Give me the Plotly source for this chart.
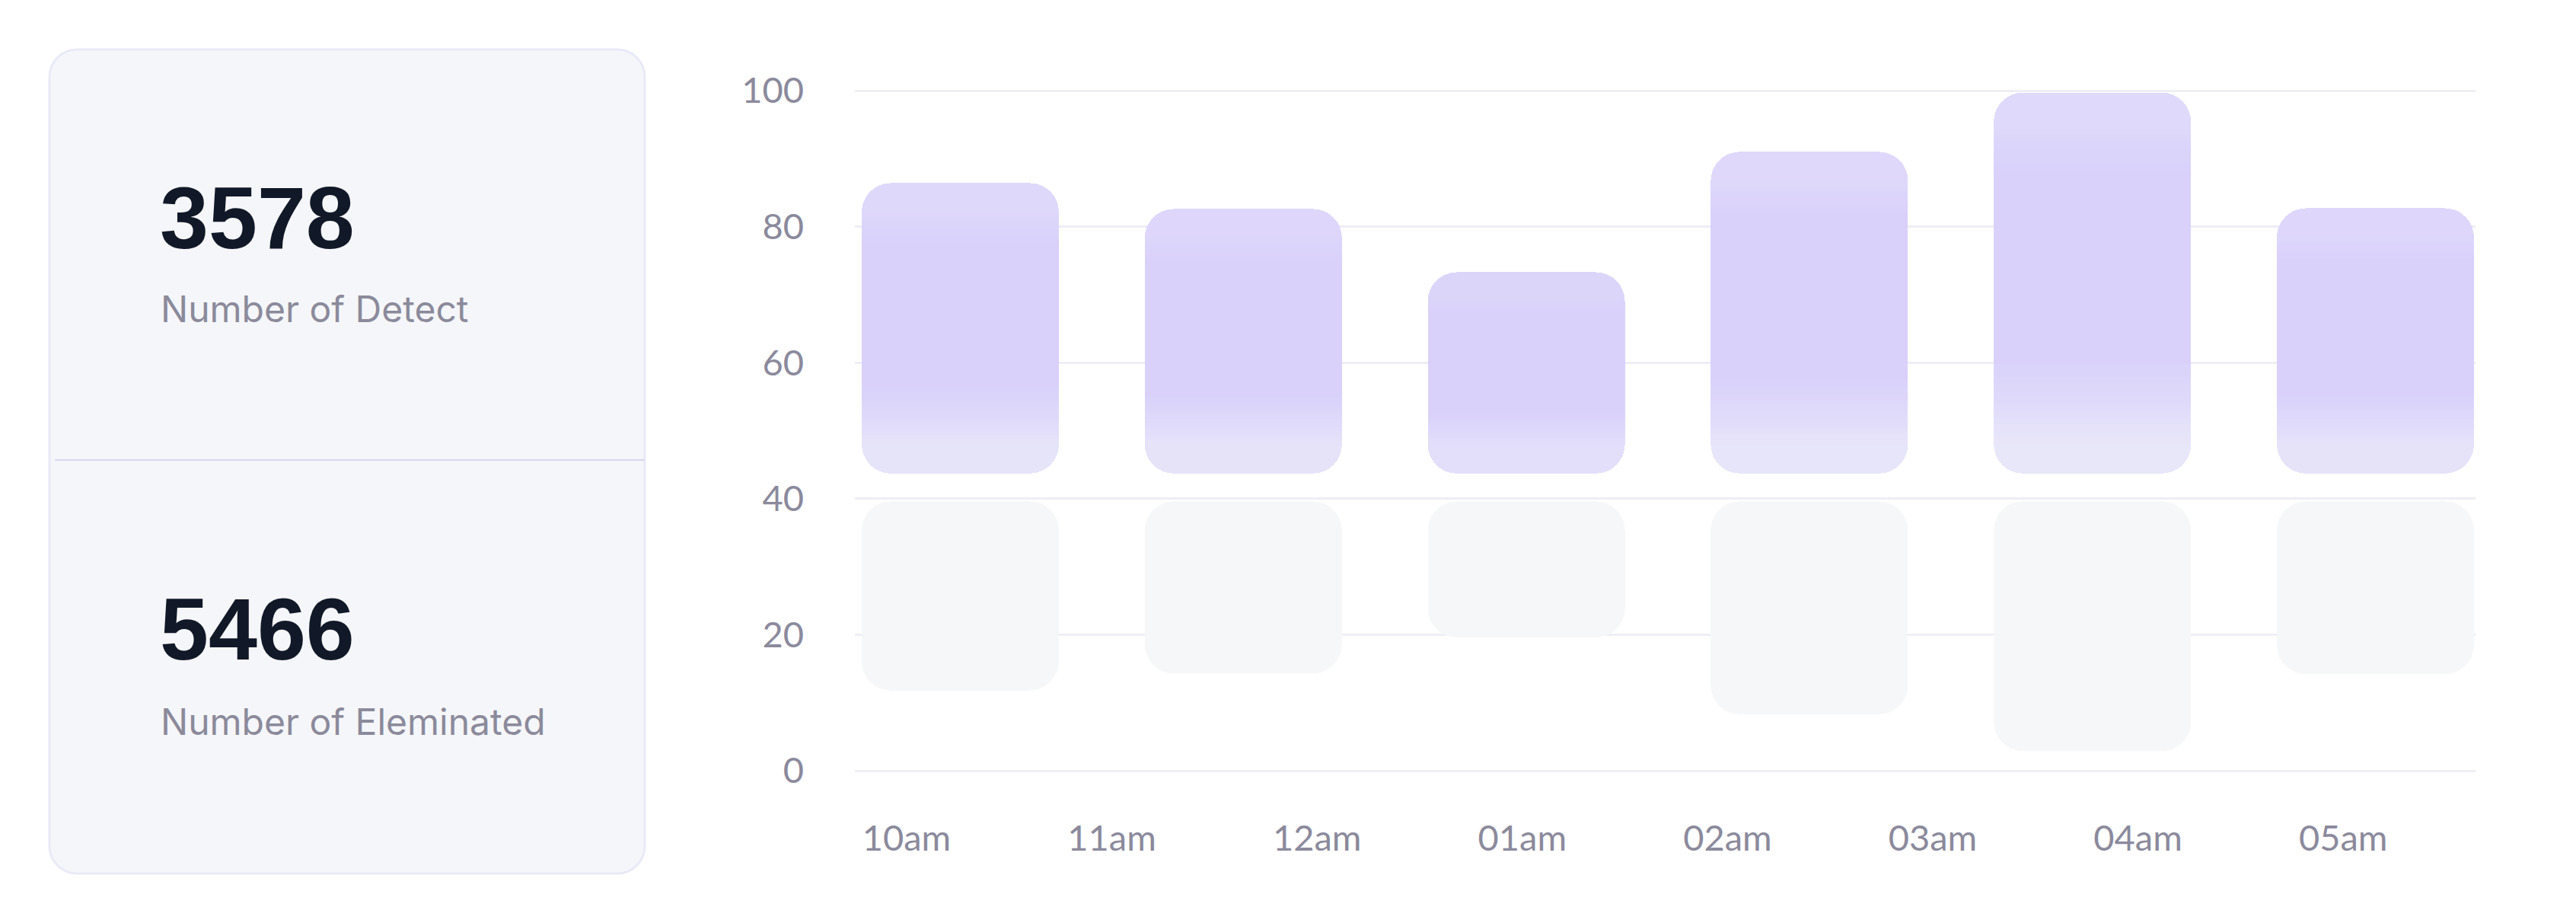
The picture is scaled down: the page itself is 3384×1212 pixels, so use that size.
import plotly.graph_objects as go

# ---------------- data ----------------
hour_labels = ["10am", "11am", "12am", "01am", "02am", "03am", "04am", "05am"]
bar_slots = [0, 1, 2, 3, 4, 5]
detect_top = [86.4, 82.6, 73.3, 91.0, 99.7, 82.7]
detect_base = [43.7, 43.7, 43.7, 43.7, 43.7, 43.7]
elim_top = [39.6, 39.6, 39.6, 39.6, 39.6, 39.6]
elim_bottom = [11.8, 14.3, 19.6, 8.3, 2.9, 14.2]
y_ticks = [0, 20, 40, 60, 80, 100]
stat_values = ["3578", "5466"]
stat_names = ["Number of Detect", "Number of Eleminated"]

# ---------------- geometry / style ----------------
W, H = 3384, 1212
def px(x):
    return x / W
def py(y):
    return 1 - y / H

PLOT_L, PLOT_R = 1123, 3252
Y0_PIX, Y100_PIX = 1012, 119
unit = (Y0_PIX - Y100_PIX) / 100.0
YR = [-1, 101]
y_dom = [py(Y0_PIX + unit * (0 - YR[0])), py(Y100_PIX - unit * (YR[1] - 100))]
x_dom = [px(PLOT_L), px(PLOT_R)]

BAR_W = 0.6966
RADIUS = 38
r_units = RADIUS / unit

GRID = "#EEEEF5"
TICK = "#8B8A9C"
GRAY_BAR = "#F6F7F9"

grad_stops = [
    (0.00, (0xEE, 0xEE, 0xF8)),
    (0.08, (0xE8, 0xE6, 0xF9)),
    (0.18, (0xE0, 0xDB, 0xFA)),
    (0.30, (0xD9, 0xD1, 0xFA)),
    (0.80, (0xD9, 0xD1, 0xFA)),
    (0.92, (0xDF, 0xD9, 0xFB)),
    (1.00, (0xE5, 0xE2, 0xFC)),
]

def grad_color(t):
    t = max(0.0, min(1.0, t))
    for (t0, c0), (t1, c1) in zip(grad_stops[:-1], grad_stops[1:]):
        if t0 <= t <= t1:
            f = 0 if t1 == t0 else (t - t0) / (t1 - t0)
            c = [round(a + (b - a) * f) for a, b in zip(c0, c1)]
            return "rgb(%d,%d,%d)" % tuple(c)
    return "rgb(%d,%d,%d)" % grad_stops[-1][1]

fig = go.Figure()

# invisible trace so the label axis (x) is drawn
fig.add_trace(go.Scatter(x=list(range(len(hour_labels))), y=[None] * len(hour_labels),
                         mode="markers", xaxis="x", yaxis="y", hoverinfo="skip",
                         showlegend=False))

common = dict(x=bar_slots, width=BAR_W, xaxis="x2", yaxis="y",
              hoverinfo="skip", showlegend=False)

def rounded_floating(bottoms, tops, end_cols_top, end_cols_bot, mid_col):
    mids = [(a + b) / 2 for a, b in zip(tops, bottoms)]
    fig.add_trace(go.Bar(base=mids, y=[t - m for t, m in zip(tops, mids)],
                         marker=dict(color=end_cols_top, cornerradius=RADIUS, line=dict(width=0)),
                         **common))
    fig.add_trace(go.Bar(base=mids, y=[-(m - b) for m, b in zip(mids, bottoms)],
                         marker=dict(color=end_cols_bot, cornerradius=RADIUS, line=dict(width=0)),
                         **common))
    if mid_col is not None:
        fig.add_trace(go.Bar(base=[b + r_units for b in bottoms],
                             y=[(t - b) - 2 * r_units for t, b in zip(tops, bottoms)],
                             marker=dict(color=mid_col, line=dict(width=0)), **common))

# ---- gray (eliminated) bars ----
rounded_floating(elim_bottom, elim_top, GRAY_BAR, GRAY_BAR, GRAY_BAR)

# ---- purple (detect) bars ----
lo = [b + r_units for b in detect_base]
hi = [t - r_units for t in detect_top]
top_cols = [grad_color((h - b) / (t - b)) for h, t, b in zip(hi, detect_top, detect_base)]
bot_cols = [grad_color((l - b) / (t - b)) for l, t, b in zip(lo, detect_top, detect_base)]
rounded_floating(detect_base, detect_top, top_cols, bot_cols, None)

# interior gradient bands
N = 48
for k in range(N):
    bases, heights, cols = [], [], []
    for i in range(len(bar_slots)):
        step = (hi[i] - lo[i]) / N
        b0 = lo[i] + k * step
        h = step * 1.8 if k < N - 1 else step
        h = min(h, hi[i] - b0)
        bases.append(b0)
        heights.append(h)
        t = (b0 + step / 2 - detect_base[i]) / (detect_top[i] - detect_base[i])
        cols.append(grad_color(t))
    fig.add_trace(go.Bar(base=bases, y=heights,
                         marker=dict(color=cols, line=dict(width=0)), **common))

# ---------------- left card ----------------
def rrect(x0, y0, x1, y1, r):
    k = 0.5523 * r
    pts = [
        ("M", [(x0 + r, y0)]),
        ("L", [(x1 - r, y0)]),
        ("C", [(x1 - r + k, y0), (x1, y0 + r - k), (x1, y0 + r)]),
        ("L", [(x1, y1 - r)]),
        ("C", [(x1, y1 - r + k), (x1 - r + k, y1), (x1 - r, y1)]),
        ("L", [(x0 + r, y1)]),
        ("C", [(x0 + r - k, y1), (x0, y1 - r + k), (x0, y1 - r)]),
        ("L", [(x0, y0 + r)]),
        ("C", [(x0, y0 + r - k), (x0 + r - k, y0), (x0 + r, y0)]),
    ]
    s = ""
    for cmd, ps in pts:
        s += cmd + " " + " ".join("%.6f,%.6f" % (px(a), py(b)) for a, b in ps) + " "
    return s + "Z"

shapes = [
    dict(type="path", xref="paper", yref="paper", path=rrect(65, 65, 847, 1147, 36),
         fillcolor="#F5F6F9", line=dict(color="#E9EAF7", width=3), layer="below"),
    dict(type="line", xref="paper", yref="paper", x0=px(72), x1=px(847), y0=py(604), y1=py(604),
         line=dict(color="#D9D6F3", width=2)),
]

annotations = []
num_cy = [286, 826]
lab_cy = [405, 947]
for v, n, cy, ly in zip(stat_values, stat_names, num_cy, lab_cy):
    annotations.append(dict(xref="paper", yref="paper", x=px(208), y=py(cy), xanchor="left",
                            yanchor="middle", showarrow=False, text="<b>%s</b>" % v,
                            font=dict(family="Liberation Sans, Arial", size=115, color="#111827")))
    annotations.append(dict(xref="paper", yref="paper", x=px(209), y=py(ly), xanchor="left",
                            yanchor="middle", showarrow=False, text=n,
                            font=dict(family="Inter", size=48, color="#8B8A9B")))

# label axis: centers at 1191 + 269.6*k
lab_unit = 269.6
lab_c0 = 1191
x_range = [-(lab_c0 - PLOT_L) / lab_unit, (PLOT_R - lab_c0) / lab_unit]
bar_unit = (2991 - 1132) / 5.0
b_left = -BAR_W / 2 - (1132 - PLOT_L) / bar_unit
b_right = 5 + BAR_W / 2 + (PLOT_R - 3250) / bar_unit

fig.update_layout(
    width=W, height=H, autosize=False,
    margin=dict(l=0, r=0, t=0, b=0, pad=0, autoexpand=False),
    paper_bgcolor="white", plot_bgcolor="white",
    barmode="overlay", bargap=0,
    shapes=shapes, annotations=annotations,
    showlegend=False,
    xaxis=dict(domain=x_dom, range=x_range, tickmode="array",
               tickvals=list(range(len(hour_labels))), ticktext=hour_labels,
               showgrid=False, zeroline=False, showline=False, ticks="",
               ticklabelstandoff=48, automargin=False, anchor="y",
               tickfont=dict(family="Lato", size=47, color=TICK), fixedrange=True),
    xaxis2=dict(domain=x_dom, range=[b_left, b_right], overlaying="x", visible=False,
                anchor="y", fixedrange=True),
    yaxis=dict(domain=y_dom, range=YR, tickmode="array", tickvals=y_ticks,
               showgrid=True, gridcolor=GRID, gridwidth=3, zeroline=False, showline=False,
               ticks="", ticklabelstandoff=66, automargin=False,
               tickfont=dict(family="Lato", size=47, color=TICK), fixedrange=True),
    font=dict(family="Lato"),
)

fig.write_html("out.html", config={"displayModeBar": False, "staticPlot": True},
               post_script="document.body.style.margin='0';document.body.style.overflow='hidden';")
